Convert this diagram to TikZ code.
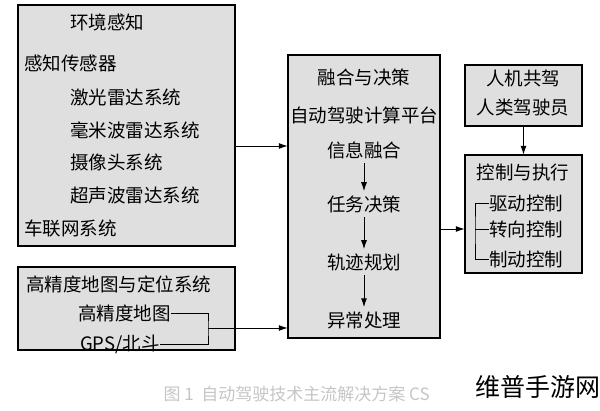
\documentclass[tikz,border=0pt]{standalone}
\usepackage{fontspec}
\setmainfont{Noto Sans CJK SC}
\usetikzlibrary{arrows.meta}
\begin{document}
\begin{tikzpicture}[x=1pt,y=-1pt,
 box/.style={draw,line width=1.3pt,fill=gray!25},
 t/.style={font=\fontsize{18.5}{18.5}\selectfont,inner sep=0pt},
 arr/.style={line width=1pt,-{Latex[length=9pt,width=6pt]}},
 ln/.style={line width=1pt}]
\useasboundingbox (0,0) rectangle (600,410);
\fill[white] (0,0) rectangle (600,410);
\draw[box] (18,5) rectangle (235,246);
\node (b1) at (126.5,125.5) [minimum width=217pt,minimum height=241pt,inner sep=0pt] {};
\draw[box] (18,267) rectangle (235,350);
\node (b2) at (126.5,308.5) [minimum width=217pt,minimum height=83pt,inner sep=0pt] {};
\draw[box] (288,55) rectangle (440,338);
\node (m) at (364,196.5) [minimum width=152pt,minimum height=283pt,inner sep=0pt] {};
\draw[box] (465,65) rectangle (582,126);
\node (r1) at (523.5,95.5) [minimum width=117pt,minimum height=61pt,inner sep=0pt] {};
\draw[box] (465,155) rectangle (582,273);
\node (r2) at (523.5,214) [minimum width=117pt,minimum height=118pt,inner sep=0pt] {};

\node[t,anchor=west] (a0) at (70,22) {环境感知};
\node[t,anchor=west] (a1) at (24,63) {感知传感器};
\node[t,anchor=west] (a2) at (70,97) {激光雷达系统};
\node[t,anchor=west] (a3) at (70,130) {毫米波雷达系统};
\node[t,anchor=west] (a4) at (70,162) {摄像头系统};
\node[t,anchor=west] (a5) at (70,195) {超声波雷达系统};
\node[t,anchor=west] (a6) at (24,228) {车联网系统};

\node[t,anchor=west] (c0) at (26,284) {高精度地图与定位系统};
\node[t,anchor=west] (c1) at (78,313) {高精度地图};
\node[t,anchor=west] (c2) at (80,344) {GPS/北斗};

\node[t] (m0) at (364,77) {融合与决策};
\node[t] (m1) at (364,115) {自动驾驶计算平台};
\node[t] (m2) at (364,150) {信息融合};
\node[t] (m3) at (364,204) {任务决策};
\node[t] (m4) at (364,262) {轨迹规划};
\node[t] (m5) at (364,320) {异常处理};

\node[t] (p0) at (523,78) {人机共驾};
\node[t] (p1) at (523,108) {人类驾驶员};
\node[t] (q0) at (523,172) {控制与执行};
\node[t,anchor=west] (q1) at (489,203) {驱动控制};
\node[t,anchor=west] (q2) at (489,229) {转向控制};
\node[t,anchor=west] (q3) at (489,259) {制动控制};

\foreach \i/\j in {m2/m3,m3/m4,m4/m5}
  \draw[arr] ([yshift=-4pt]\i.south) -- ([yshift=4pt]\j.north);
\draw[arr] (b1.east |- 0,146) -- (m.west |- 0,146);
\coordinate (k) at (208,328);
\draw[ln] (c1.east) -| (k) |- (c2.east);
\draw[arr] (k) -- (m.west |- k);
\draw[arr] (m.east |- 0,229) -- (r2.west |- 0,229);
\draw[arr] (r1.south) -- (r2.north);
\coordinate (kb) at (475,229);
\draw[ln] (q1.west) -| (kb) |- (q3.west);
\draw[ln] (kb) -- (q2.west);

\node[font=\fontsize{17}{17}\selectfont,text=gray!45,anchor=west] (cap) at (160,394) {图 1\ \ 自动驾驶技术主流解决方案 CS};
\node[font=\fontsize{25}{25}\selectfont,anchor=west] (wm) at (472,387) {维普手游网};
\end{tikzpicture}
\end{document}
